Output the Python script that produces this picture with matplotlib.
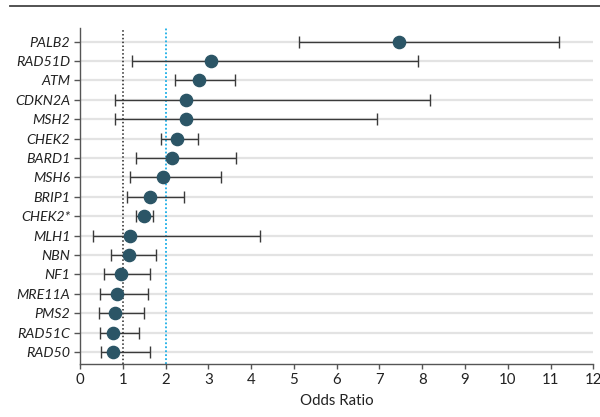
import matplotlib
matplotlib.use('Agg')
import matplotlib.pyplot as plt
from matplotlib.lines import Line2D
import numpy as np

# Odds ratios with 95% CI (top to bottom)
genes = ['PALB2', 'RAD51D', 'ATM', 'CDKN2A', 'MSH2', 'CHEK2', 'BARD1', 'MSH6',
         'BRIP1', 'CHEK2*', 'MLH1', 'NBN', 'NF1', 'MRE11A', 'PMS2', 'RAD51C', 'RAD50']
odds = [7.45, 3.07, 2.79, 2.48, 2.48, 2.27, 2.16, 1.93,
        1.64, 1.49, 1.17, 1.15, 0.95, 0.86, 0.83, 0.78, 0.78]
ci_low = [5.11, 1.22, 2.21, 0.82, 0.81, 1.89, 1.31, 1.16,
          1.10, 1.31, 0.30, 0.72, 0.56, 0.46, 0.44, 0.47, 0.50]
ci_high = [11.20, 7.89, 3.63, 8.18, 6.94, 2.75, 3.65, 3.29,
           2.43, 1.70, 4.21, 1.77, 1.64, 1.59, 1.49, 1.39, 1.64]
xticks = list(range(0, 13))

plt.rcParams['font.family'] = ['Lato', 'DejaVu Sans']

fig = plt.figure(figsize=(6, 4.17), dpi=100)
ax = fig.add_axes([0.1333, 0.1271, 0.8556, 0.8058])

n = len(genes)
ypos = np.arange(n)[::-1]
odds = np.array(odds)
lo = odds - np.array(ci_low)
hi = np.array(ci_high) - odds

for y in ypos:
  ax.axhline(y, color='#e3e3e3', lw=1.6, zorder=0)

ax.axvline(1, color='#222222', lw=1.1, ls=(0, (1, 1.5)), zorder=1)
ax.axvline(2, color='#1aaee6', lw=1.3, ls=(0, (1, 1.2)), zorder=1)

ax.errorbar(odds, ypos, xerr=[lo, hi], fmt='none', ecolor='#3a3a3a', elinewidth=1.0,
            capsize=4.5, capthick=1.0, zorder=2)
ax.plot(odds, ypos, 'o', color='#2b5566', ms=8.8, zorder=3)

ax.set_xlim(0, 12)
ax.set_ylim(-0.62, n - 1 + 0.7)
ax.set_xticks(xticks)
ax.set_xticklabels([str(t) for t in xticks], fontsize=10.8, color='#222222')
ax.set_yticks(ypos)
ax.set_yticklabels(genes, fontsize=10.3, style='italic', color='#222222')
ax.tick_params(axis='y', length=4, width=1, color='#555555', pad=3)
ax.tick_params(axis='x', length=3.5, width=1, color='#555555', pad=3)
ax.set_xlabel('Odds Ratio', fontsize=10.8, color='#222222', labelpad=5)

for s in ['top', 'right']:
  ax.spines[s].set_visible(False)
for s in ['left', 'bottom']:
  ax.spines[s].set_color('#555555')
  ax.spines[s].set_linewidth(1.0)

# rule at the top of the figure
fig.add_artist(Line2D([0.017, 1.0], [0.986, 0.986], color='#444444', lw=1.3,
                      transform=fig.transFigure))

plt.savefig('out.png', dpi=100, facecolor='w')
